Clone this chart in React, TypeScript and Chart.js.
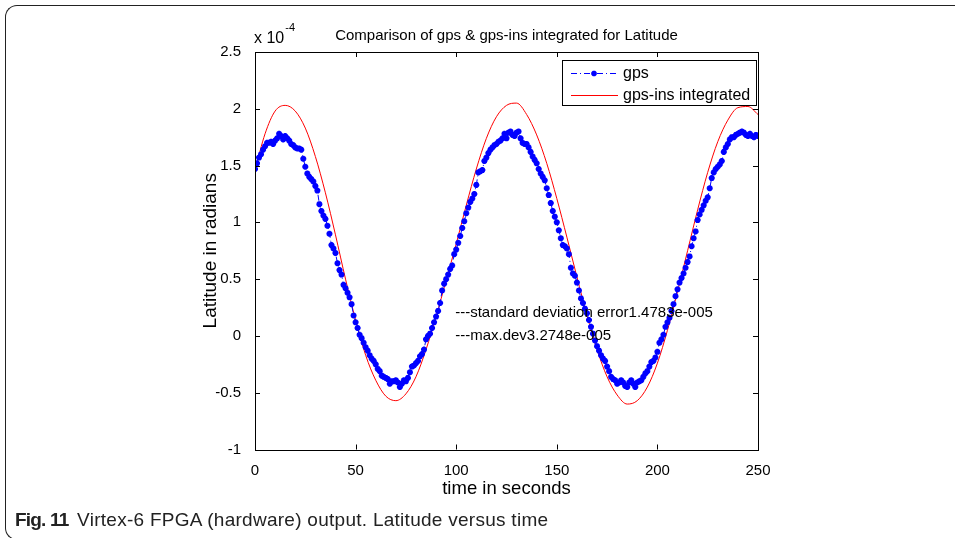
import { useEffect, useRef } from 'react';
import { Chart, registerables } from 'chart.js';

Chart.register(...registerables);

// ---------- text ----------
const TITLE = 'Comparison of gps & gps-ins integrated for Latitude';
const X_LABEL = 'time in seconds';
const Y_LABEL = 'Latitude in radians';
const Y_MULT_BASE = 'x 10';
const Y_MULT_EXP = '-4';
const CAPTION_BOLD = 'Fig. 11';
const CAPTION_TEXT = 'Virtex-6 FPGA (hardware) output. Latitude versus time';
const SERIES_NAMES = ['gps', 'gps-ins integrated'];
const ANNOTATIONS = ['---standard deviation error1.4783e-005', '---max.dev3.2748e-005'];
const ANNOTATION_X = 100;
const ANNOTATION_Y = [0.2, 0.0];

// ---------- ticks ----------
const X_TICKS = [0, 50, 100, 150, 200, 250];
const Y_TICKS = [-1, -0.5, 0, 0.5, 1, 1.5, 2, 2.5];

// ---------- data (latitude in units of 1e-4 rad) ----------
const GPS_START = 0;
const GPS_STEP = 1;
const GPS_VALUES = [
  1.47, 1.52, 1.57, 1.60, 1.64, 1.67, 1.70, 1.70, 1.71, 1.69,
  1.72, 1.74, 1.78, 1.76, 1.73, 1.76, 1.74, 1.72, 1.69, 1.68,
  1.66, 1.65, 1.65, 1.64, 1.56, 1.49, 1.43, 1.40, 1.38, 1.36,
  1.32, 1.28, 1.16, 1.10, 1.06, 1.03, 0.97, 0.90, 0.80, 0.77,
  0.73, 0.64, 0.58, 0.54, 0.45, 0.42, 0.38, 0.34, 0.28, 0.18,
  0.12, 0.07, 0.01, -0.02, -0.06, -0.10, -0.13, -0.17, -0.20, -0.22,
  -0.25, -0.29, -0.31, -0.35, -0.36, -0.37, -0.38, -0.42, -0.40, -0.40,
  -0.39, -0.41, -0.45, -0.42, -0.39, -0.40, -0.37, -0.32, -0.27, -0.26,
  -0.24, -0.22, -0.18, -0.16, -0.12, -0.03, 0.00, 0.02, 0.07, 0.12,
  0.17, 0.22, 0.29, 0.40, 0.46, 0.50, 0.54, 0.59, 0.62, 0.72,
  0.76, 0.82, 0.88, 0.95, 1.01, 1.08, 1.13, 1.18, 1.21, 1.25,
  1.33, 1.44, 1.45, 1.46, 1.54, 1.57, 1.61, 1.64, 1.66, 1.68,
  1.69, 1.71, 1.72, 1.74, 1.78, 1.74, 1.79, 1.80, 1.77, 1.76,
  1.79, 1.80, 1.74, 1.70, 1.69, 1.69, 1.66, 1.62, 1.58, 1.55,
  1.52, 1.47, 1.43, 1.40, 1.37, 1.30, 1.24, 1.17, 1.10, 1.05,
  1.00, 0.93, 0.86, 0.80, 0.79, 0.77, 0.72, 0.60, 0.55, 0.53,
  0.47, 0.40, 0.33, 0.29, 0.24, 0.20, 0.14, 0.08, 0.02, -0.04,
  -0.09, -0.13, -0.17, -0.20, -0.22, -0.27, -0.31, -0.36, -0.38, -0.39,
  -0.42, -0.41, -0.39, -0.41, -0.44, -0.45, -0.41, -0.39, -0.42, -0.45,
  -0.41, -0.40, -0.39, -0.36, -0.33, -0.31, -0.27, -0.23, -0.22, -0.19,
  -0.14, -0.06, -0.03, 0.01, 0.08, 0.12, 0.16, 0.22, 0.28, 0.35,
  0.41, 0.47, 0.51, 0.55, 0.60, 0.65, 0.70, 0.79, 0.86, 0.92,
  1.02, 1.07, 1.11, 1.15, 1.19, 1.22, 1.30, 1.39, 1.44, 1.47,
  1.49, 1.51, 1.54, 1.62, 1.66, 1.69, 1.73, 1.75, 1.75, 1.77,
  1.78, 1.79, 1.80, 1.79, 1.77, 1.76, 1.78, 1.76, 1.75, 1.77,
  1.76,
];

const INS_TIME = [
  0, 5, 10, 15, 20, 25, 30, 35, 40, 45,
  50, 55, 60, 65, 70, 75, 80, 85, 90, 95,
  100, 105, 110, 115, 120, 125, 130, 135, 140, 145,
  150, 155, 160, 165, 170, 175, 180, 185, 190, 195,
  200, 205, 210, 215, 220, 225, 230, 235, 240, 245,
  250,
];
const INS_VALUES = [
  1.46, 1.78, 1.98, 2.03, 1.98, 1.83, 1.58, 1.26, 0.89, 0.50,
  0.14, -0.17, -0.39, -0.53, -0.57, -0.51, -0.36, -0.12, 0.17, 0.49,
  0.81, 1.15, 1.47, 1.74, 1.93, 2.03, 2.05, 1.95, 1.77, 1.52,
  1.21, 0.87, 0.52, 0.18, -0.12, -0.36, -0.52, -0.60, -0.57, -0.45,
  -0.24, 0.05, 0.39, 0.75, 1.11, 1.44, 1.71, 1.90, 2.01, 2.02,
  1.95,
];

const FONT = '"Liberation Sans", Arial, Helvetica, sans-serif';
const GPS_COLOR = '#0000ff';
const INS_COLOR = '#ff0000';

function drawStar(ctx: CanvasRenderingContext2D, x: number, y: number, r: number) {
  ctx.beginPath();
  ctx.moveTo(x - r, y); ctx.lineTo(x + r, y);
  ctx.moveTo(x, y - r); ctx.lineTo(x, y + r);
  const d = r * 0.7071;
  ctx.moveTo(x - d, y - d); ctx.lineTo(x + d, y + d);
  ctx.moveTo(x - d, y + d); ctx.lineTo(x + d, y - d);
  ctx.stroke();
}

const matlabPlugin = {
  id: 'matlabDecor',
  afterDraw(chart: any) {
    const { ctx, chartArea: a, scales } = chart;
    const xs = scales.x;
    const ys = scales.y;
    ctx.save();
    // box
    ctx.strokeStyle = '#000';
    ctx.lineWidth = 1;
    ctx.setLineDash([]);
    ctx.strokeRect(Math.round(a.left) + 0.5, Math.round(a.top) + 0.5,
      Math.round(a.right) - Math.round(a.left), Math.round(a.bottom) - Math.round(a.top));
    // inward ticks
    const TL = 5;
    ctx.beginPath();
    xs.ticks.forEach((t: any) => {
      const px = Math.round(xs.getPixelForValue(t.value)) + 0.5;
      ctx.moveTo(px, a.bottom); ctx.lineTo(px, a.bottom - TL);
      ctx.moveTo(px, a.top); ctx.lineTo(px, a.top + TL);
    });
    ys.ticks.forEach((t: any) => {
      const py = Math.round(ys.getPixelForValue(t.value)) + 0.5;
      ctx.moveTo(a.left, py); ctx.lineTo(a.left + TL, py);
      ctx.moveTo(a.right, py); ctx.lineTo(a.right - TL, py);
    });
    ctx.stroke();

    // exponent label
    ctx.fillStyle = '#000';
    ctx.textBaseline = 'middle';
    ctx.textAlign = 'left';
    ctx.font = `16px ${FONT}`;
    const bx = a.left - 1;
    ctx.fillText(Y_MULT_BASE, bx, a.top - 13);
    const bw = ctx.measureText(Y_MULT_BASE).width;
    ctx.font = `11px ${FONT}`;
    ctx.fillText(Y_MULT_EXP, bx + bw + 1, a.top - 24);

    // annotations
    ctx.font = `15px ${FONT}`;
    ANNOTATIONS.forEach((txt, i) => {
      ctx.fillText(txt, xs.getPixelForValue(ANNOTATION_X) - 1, ys.getPixelForValue(ANNOTATION_Y[i]));
    });

    // legend
    const w = 194, h = 45;
    const left = Math.round(a.right) - w - 2;
    const top = Math.round(a.top) + 8;
    ctx.fillStyle = '#fff';
    ctx.fillRect(left, top, w, h);
    ctx.strokeStyle = '#000';
    ctx.lineWidth = 1;
    ctx.strokeRect(left + 0.5, top + 0.5, w, h);
    chart.data.datasets.forEach((ds: any, i: number) => {
      const y = top + 13 + i * 22 + 0.5;
      ctx.strokeStyle = ds.borderColor;
      ctx.lineWidth = 1;
      ctx.setLineDash(ds.borderDash || []);
      ctx.beginPath();
      ctx.moveTo(left + 9, y); ctx.lineTo(left + 56, y);
      ctx.stroke();
      ctx.setLineDash([]);
      if (ds.pointRadius > 0) {
        ctx.lineWidth = 2;
        drawStar(ctx, left + 32, y, 2.8);
      }
      ctx.fillStyle = '#000';
      ctx.font = `16px ${FONT}`;
      ctx.textBaseline = 'middle';
      ctx.fillText(ds.label, left + 61, y);
    });
    ctx.restore();
  },
};

export default function App() {
  const canvasRef = useRef<HTMLCanvasElement | null>(null);

  useEffect(() => {
    if (!canvasRef.current) return;
    const gpsPoints = GPS_VALUES.map((v, i) => ({ x: GPS_START + i * GPS_STEP, y: v }));
    const insPoints = INS_VALUES.map((v, i) => ({ x: INS_TIME[i], y: v }));
    const chart = new Chart(canvasRef.current, {
      type: 'line',
      data: {
        datasets: [
          {
            label: SERIES_NAMES[0],
            data: gpsPoints,
            borderColor: GPS_COLOR,
            backgroundColor: GPS_COLOR,
            borderWidth: 1,
            borderDash: [6, 3, 1, 3],
            pointStyle: 'star',
            pointRadius: 3,
            pointBorderWidth: 2,
            pointBorderColor: GPS_COLOR,
            pointBackgroundColor: GPS_COLOR,
            tension: 0,
            fill: false,
          },
          {
            label: SERIES_NAMES[1],
            data: insPoints,
            borderColor: INS_COLOR,
            backgroundColor: INS_COLOR,
            borderWidth: 1,
            pointRadius: 0,
            cubicInterpolationMode: 'monotone',
            fill: false,
          },
        ],
      },
      options: {
        responsive: false,
        animation: false,
        devicePixelRatio: 1,
        layout: { padding: { left: 0, right: 197, top: 0, bottom: 0 } },
        plugins: {
          legend: { display: false },
          tooltip: { enabled: false },
          title: {
            display: true,
            text: TITLE,
            fullSize: false,
            color: '#000',
            font: { family: FONT, size: 15, weight: 'normal' },
            padding: { top: 27, bottom: 7 },
          },
        },
        scales: {
          x: {
            type: 'linear',
            min: 0,
            max: 250,
            grid: { display: false },
            border: { display: false },
            afterBuildTicks: (s: any) => { s.ticks = X_TICKS.map((v) => ({ value: v })); },
            afterFit: (s: any) => { s.height = 88.5; },
            ticks: {
              color: '#000',
              font: { family: FONT, size: 15 },
              padding: 4,
              maxRotation: 0,
              autoSkip: false,
              callback: (v: any) => String(v),
            },
            title: {
              display: true,
              text: X_LABEL,
              color: '#000',
              font: { family: FONT, size: 18.5 },
              padding: { top: 0, bottom: 37.9 },
            },
          },
          y: {
            type: 'linear',
            min: -1,
            max: 2.5,
            grid: { display: false },
            border: { display: false },
            afterBuildTicks: (s: any) => { s.ticks = Y_TICKS.map((v) => ({ value: v })); },
            afterFit: (s: any) => { s.width = 255; },
            ticks: {
              color: '#000',
              font: { family: FONT, size: 15 },
              padding: 6,
              autoSkip: false,
              callback: (v: any) => String(v),
            },
            title: {
              display: true,
              text: Y_LABEL,
              color: '#000',
              font: { family: FONT, size: 19 },
              padding: { top: 199, bottom: 0 },
            },
          },
        },
      },
      plugins: [matlabPlugin],
    } as any);
    return () => chart.destroy();
  }, []);

  return (
    <div style={{ position: 'fixed', left: 0, top: 0, width: 955, height: 538, overflow: 'hidden', background: '#fff' }}>
      <div
        style={{
          position: 'absolute', left: 5, top: 5, width: 1000, height: 533,
          borderLeft: '1.5px solid #222', borderTop: '1.5px solid #222', borderBottom: '1.5px solid #222',
          borderRadius: '12px 0 0 12px', boxSizing: 'content-box',
        }}
      />
      <canvas ref={canvasRef} width={955} height={538} style={{ position: 'absolute', left: 0, top: 0, display: 'block' }} />
      <div
        style={{
          position: 'absolute', left: 15, top: 508, fontFamily: FONT, fontSize: 19, color: '#222',
          whiteSpace: 'nowrap', lineHeight: '24px',
        }}
      >
        <span style={{ fontWeight: 'bold', letterSpacing: -0.8 }}>{CAPTION_BOLD}</span>
        <span style={{ letterSpacing: 0.27, marginLeft: 3 }}>{' ' + CAPTION_TEXT}</span>
      </div>
    </div>
  );
}
